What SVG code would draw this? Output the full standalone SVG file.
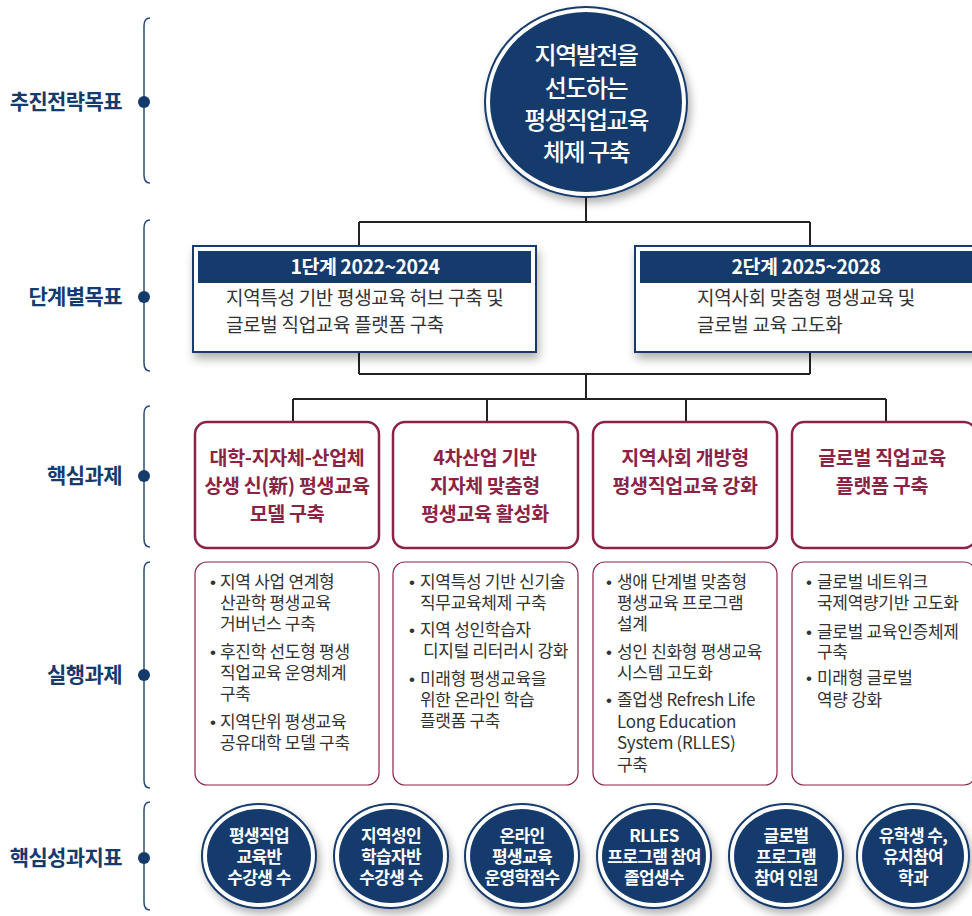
<svg xmlns="http://www.w3.org/2000/svg" width="972" height="916" viewBox="0 0 972 916">
<defs>
<filter id="sh" x="-20%" y="-20%" width="140%" height="150%">
<feDropShadow dx="2" dy="6" stdDeviation="5" flood-color="#000" flood-opacity="0.3"/>
</filter>
<filter id="shc" x="-20%" y="-20%" width="150%" height="150%">
<feDropShadow dx="3" dy="5" stdDeviation="4" flood-color="#000" flood-opacity="0.3"/>
</filter>
</defs>
<style>
text{font-family:"Noto Sans CJK KR","Noto Sans",sans-serif}
.lbl{font-weight:700;font-size:21px;fill:#153b6c;text-anchor:end;letter-spacing:-0.6px}
.brk{fill:none;stroke:#2d4d78;stroke-width:1.5}
.dot{fill:#153b6c}
.conn{stroke:#222;stroke-width:2;fill:none}
.stage{fill:#fff;stroke:#153b6c;stroke-width:2}
.band{fill:#153b6c}
.bandtxt{font-weight:700;font-size:19.5px;fill:#fff;text-anchor:middle;letter-spacing:-0.5px}
.stxt{font-size:19px;fill:#333;letter-spacing:-0.3px}
.core{fill:#fff;stroke:#8b2444;stroke-width:2.5}
.coretxt{font-weight:700;font-size:19.5px;fill:#8b2444;text-anchor:middle;letter-spacing:-0.3px}
.exec{fill:#fff;stroke:#8b2444;stroke-width:1.2}
.etxt{font-size:17px;fill:#333;letter-spacing:-0.3px}
.b{font-family:"Liberation Sans",sans-serif}
.ring{fill:#fff;stroke:#153b6c;stroke-width:2}
.fill{fill:#153b6c}
.toptxt{font-weight:500;font-size:24px;fill:#fff;text-anchor:middle;letter-spacing:-1.5px}
.ktxt{font-weight:700;font-size:17px;fill:#fff;text-anchor:middle;letter-spacing:-0.6px}
</style>

<g id="labels">
<path class="brk" d="M150,18 Q144,18 144,26 L144,175 Q144,183 150,183"/>
<circle class="dot" cx="144" cy="102" r="6"/>
<text class="lbl" x="122" y="109">추진전략목표</text>
<path class="brk" d="M150,220 Q144,220 144,228 L144,363 Q144,371 150,371"/>
<circle class="dot" cx="144" cy="297" r="6"/>
<text class="lbl" x="122" y="304">단계별목표</text>
<path class="brk" d="M150,406 Q144,406 144,414 L144,539 Q144,547 150,547"/>
<circle class="dot" cx="144" cy="476" r="6"/>
<text class="lbl" x="122" y="483">핵심과제</text>
<path class="brk" d="M150,562 Q144,562 144,570 L144,780 Q144,788 150,788"/>
<circle class="dot" cx="144" cy="675" r="6"/>
<text class="lbl" x="122" y="682">실행과제</text>
<path class="brk" d="M150,802 Q144,802 144,810 L144,902 Q144,910 150,910"/>
<circle class="dot" cx="144" cy="858" r="6"/>
<text class="lbl" x="122" y="865">핵심성과지표</text>
</g>

<g id="connectors">
<path class="conn" d="M586,197 V222 M359,222 H810 M359,222 V246 M810,222 V246"/>
<path class="conn" d="M359,352 V374 M810,352 V374 M359,374 H810 M586,374 V399"/>
<path class="conn" d="M293,399 H886 M293,399 V422 M487,399 V422 M686,399 V422 M886,399 V422"/>
</g>

<g id="goal">
<ellipse class="ring" cx="586" cy="102" rx="101" ry="95" filter="url(#shc)"/>
<ellipse class="fill" cx="586" cy="102" rx="96" ry="90"/>
<text class="toptxt" x="586" y="64">지역발전을</text>
<text class="toptxt" x="586" y="97">선도하는</text>
<text class="toptxt" x="586" y="129">평생직업교육</text>
<text class="toptxt" x="586" y="161">체제 구축</text>
</g>

<g id="stage1">
<rect class="stage" x="193" y="246" width="343" height="106" filter="url(#sh)"/>
<rect class="band" x="198" y="251" width="333" height="32"/>
<text class="bandtxt" x="365" y="274">1단계 2022~2024</text>
<text class="stxt" x="226" y="305">지역특성 기반 평생교육 허브 구축 및</text>
<text class="stxt" x="226" y="332">글로벌 직업교육 플랫폼 구축</text>
</g>

<g id="stage2">
<rect class="stage" x="635" y="246" width="343" height="106" filter="url(#sh)"/>
<rect class="band" x="640" y="251" width="333" height="32"/>
<text class="bandtxt" x="806" y="274">2단계 2025~2028</text>
<text class="stxt" x="697" y="305">지역사회 맞춤형 평생교육 및</text>
<text class="stxt" x="697" y="332">글로벌 교육 고도화</text>
</g>

<g id="core1">
<rect class="core" x="195" y="422" width="184" height="126" rx="12"/>
<text class="coretxt" x="287" y="465">대학-지자체-산업체</text>
<text class="coretxt" x="287" y="493">상생 신(新) 평생교육</text>
<text class="coretxt" x="287" y="521">모델 구축</text>
</g>
<g id="core2">
<rect class="core" x="393" y="422" width="185" height="126" rx="12"/>
<text class="coretxt" x="485" y="465">4차산업 기반</text>
<text class="coretxt" x="485" y="493">지자체 맞춤형</text>
<text class="coretxt" x="485" y="521">평생교육 활성화</text>
</g>
<g id="core3">
<rect class="core" x="593" y="422" width="184" height="126" rx="12"/>
<text class="coretxt" x="685" y="465">지역사회 개방형</text>
<text class="coretxt" x="685" y="493">평생직업교육 강화</text>
</g>
<g id="core4">
<rect class="core" x="792" y="422" width="184" height="126" rx="12"/>
<text class="coretxt" x="882" y="465">글로벌 직업교육</text>
<text class="coretxt" x="882" y="493">플랫폼 구축</text>
</g>

<g id="exec1">
<rect class="exec" x="195" y="562" width="184" height="223" rx="12"/>
<text class="etxt" y="588"><tspan class="b" x="210">•</tspan><tspan x="220">지역 사업 연계형</tspan></text>
<text class="etxt" x="220" y="609">산관학 평생교육</text>
<text class="etxt" x="220" y="630">거버넌스 구축</text>
<text class="etxt" y="658"><tspan class="b" x="210">•</tspan><tspan x="220">후진학 선도형 평생</tspan></text>
<text class="etxt" x="220" y="679">직업교육 운영체계</text>
<text class="etxt" x="220" y="700">구축</text>
<text class="etxt" y="728"><tspan class="b" x="210">•</tspan><tspan x="220">지역단위 평생교육</tspan></text>
<text class="etxt" x="220" y="749">공유대학 모델 구축</text>
</g>
<g id="exec2">
<rect class="exec" x="393" y="562" width="185" height="223" rx="12"/>
<text class="etxt" y="588"><tspan class="b" x="409">•</tspan><tspan x="420">지역특성 기반 신기술</tspan></text>
<text class="etxt" x="420" y="609">직무교육체제 구축</text>
<text class="etxt" y="636"><tspan class="b" x="409">•</tspan><tspan x="420">지역 성인학습자</tspan></text>
<text class="etxt" x="423" y="657">디지털 리터러시 강화</text>
<text class="etxt" y="685"><tspan class="b" x="409">•</tspan><tspan x="420">미래형 평생교육을</tspan></text>
<text class="etxt" x="420" y="706">위한 온라인 학습</text>
<text class="etxt" x="420" y="727">플랫폼 구축</text>
</g>
<g id="exec3">
<rect class="exec" x="593" y="562" width="184" height="223" rx="12"/>
<text class="etxt" y="588"><tspan class="b" x="606">•</tspan><tspan x="617">생애 단계별 맞춤형</tspan></text>
<text class="etxt" x="617" y="609">평생교육 프로그램</text>
<text class="etxt" x="617" y="630">설계</text>
<text class="etxt" y="658"><tspan class="b" x="606">•</tspan><tspan x="617">성인 친화형 평생교육</tspan></text>
<text class="etxt" x="617" y="679">시스템 고도화</text>
<text class="etxt" y="706"><tspan class="b" x="606">•</tspan><tspan x="617">졸업생 Refresh Life</tspan></text>
<text class="etxt" x="617" y="728">Long Education</text>
<text class="etxt" x="617" y="749">System (RLLES)</text>
<text class="etxt" x="617" y="771">구축</text>
</g>
<g id="exec4">
<rect class="exec" x="792" y="562" width="184" height="223" rx="12"/>
<text class="etxt" y="588"><tspan class="b" x="806">•</tspan><tspan x="817">글로벌 네트워크</tspan></text>
<text class="etxt" x="817" y="609">국제역량기반 고도화</text>
<text class="etxt" y="638"><tspan class="b" x="806">•</tspan><tspan x="817">글로벌 교육인증체제</tspan></text>
<text class="etxt" x="817" y="658">구축</text>
<text class="etxt" y="684"><tspan class="b" x="806">•</tspan><tspan x="817">미래형 글로벌</tspan></text>
<text class="etxt" x="817" y="706">역량 강화</text>
</g>

<g id="kpi1">
<ellipse class="ring" cx="259" cy="856" rx="57" ry="52" filter="url(#shc)"/>
<ellipse class="fill" cx="259" cy="856" rx="52" ry="47"/>
<text class="ktxt" x="259" y="842">평생직업</text>
<text class="ktxt" x="259" y="863">교육반</text>
<text class="ktxt" x="259" y="884">수강생 수</text>
</g>
<g id="kpi2">
<ellipse class="ring" cx="391" cy="856" rx="57" ry="52" filter="url(#shc)"/>
<ellipse class="fill" cx="391" cy="856" rx="52" ry="47"/>
<text class="ktxt" x="391" y="842">지역성인</text>
<text class="ktxt" x="391" y="863">학습자반</text>
<text class="ktxt" x="391" y="884">수강생 수</text>
</g>
<g id="kpi3">
<ellipse class="ring" cx="522" cy="856" rx="57" ry="52" filter="url(#shc)"/>
<ellipse class="fill" cx="522" cy="856" rx="52" ry="47"/>
<text class="ktxt" x="522" y="842">온라인</text>
<text class="ktxt" x="522" y="863">평생교육</text>
<text class="ktxt" x="522" y="884">운영학점수</text>
</g>
<g id="kpi4">
<ellipse class="ring" cx="654" cy="856" rx="57" ry="52" filter="url(#shc)"/>
<ellipse class="fill" cx="654" cy="856" rx="52" ry="47"/>
<text class="ktxt" x="654" y="842">RLLES</text>
<text class="ktxt" x="654" y="863">프로그램 참여</text>
<text class="ktxt" x="654" y="884">졸업생수</text>
</g>
<g id="kpi5">
<ellipse class="ring" cx="786" cy="856" rx="57" ry="52" filter="url(#shc)"/>
<ellipse class="fill" cx="786" cy="856" rx="52" ry="47"/>
<text class="ktxt" x="786" y="842">글로벌</text>
<text class="ktxt" x="786" y="863">프로그램</text>
<text class="ktxt" x="786" y="884">참여 인원</text>
</g>
<g id="kpi6">
<ellipse class="ring" cx="913" cy="856" rx="56" ry="52" filter="url(#shc)"/>
<ellipse class="fill" cx="913" cy="856" rx="51" ry="47"/>
<text class="ktxt" x="913" y="842">유학생 수,</text>
<text class="ktxt" x="913" y="863">유치참여</text>
<text class="ktxt" x="913" y="884">학과</text>
</g>
</svg>
